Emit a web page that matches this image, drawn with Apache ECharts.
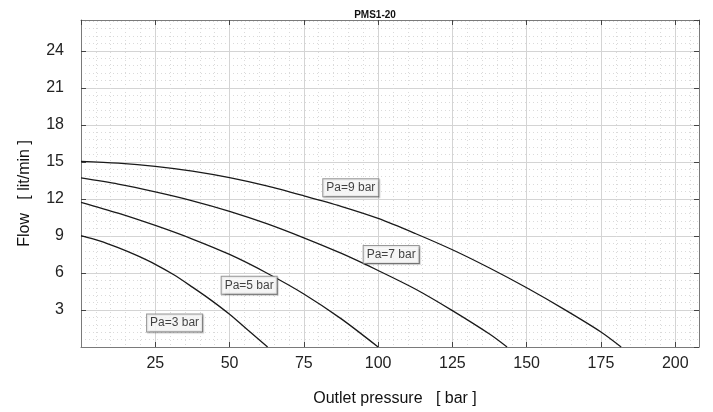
<!DOCTYPE html>
<html>
<head>
<meta charset="utf-8">
<script src="https://cdn.jsdelivr.net/npm/echarts@6/dist/echarts.min.js"></script>
<style>
html,body{margin:0;padding:0;background:#fff;}
#chart{width:713px;height:412px;}
</style>
</head>
<body>
<div id="chart"></div>
<script>
const titleText = "PMS1-20";
const xName = "Outlet pressure   [ bar ]";
const yName = "Flow   [ lit/min ]";

const seriesNames = ["Pa=3 bar", "Pa=5 bar", "Pa=7 bar", "Pa=9 bar"];

const pa3X = [0, 6.25, 12.5, 18.75, 25, 31.25, 37.5, 43.75, 50, 56.25, 62.8];
const pa3Y = [9.03, 8.6, 8.05, 7.42, 6.7, 5.85, 4.85, 3.8, 2.65, 1.35, 0];

const pa5X = [0, 12.5, 25, 37.5, 50, 62.5, 75, 87.5, 100];
const pa5Y = [11.73, 10.85, 9.85, 8.75, 7.5, 6.0, 4.3, 2.3, 0];

const pa7X = [0, 12.5, 25, 37.5, 50, 62.5, 75, 87.5, 100, 112.5, 125, 137.5, 143.4];
const pa7Y = [13.7, 13.2, 12.57, 11.85, 11.0, 10.0, 8.85, 7.6, 6.2, 4.7, 2.95, 1.05, 0];

const pa9X = [0, 12.5, 25, 37.5, 50, 62.5, 75, 87.5, 100, 112.5, 125, 137.5, 150, 162.5, 175, 181.8];
const pa9Y = [15.05, 14.9, 14.64, 14.25, 13.72, 13.05, 12.25, 11.4, 10.42, 9.2, 7.88, 6.4, 4.8, 3.07, 1.22, 0];

// label anchor points (data coordinates)
const labelX = [31.5, 56.6, 104.4, 90.8];
const labelY = [1.95, 5.0, 7.5, 12.9];

const xMin = 0, xMax = 208, xStep = 25;
const yMin = 0, yMax = 26.5, yStep = 3;

const FONT = "'Liberation Sans', Arial, sans-serif";

function pairs(xs, ys){ return xs.map((x,i)=>[x, ys[i]]); }
const curves = [pairs(pa3X,pa3Y), pairs(pa5X,pa5Y), pairs(pa7X,pa7Y), pairs(pa9X,pa9Y)];

const gridLine = {show:true, lineStyle:{color:'#d4d4d4', width:1}};
const minorLine = {show:true, lineStyle:{color:'#dadada', width:1, type:[1,3]}};
const tick = {show:true, inside:true, length:5, lineStyle:{color:'#444', width:1}};
const axLine = {show:true, onZero:false, lineStyle:{color:'#7a7a7a', width:1}};

const chart = echarts.init(document.getElementById('chart'), null, {renderer:'canvas'});

const series = curves.map((d,i)=>({
  name: seriesNames[i],
  type:'line',
  data:d,
  xAxisIndex:0, yAxisIndex:0,
  showSymbol:false,
  smooth:0.3,
  lineStyle:{color:'#1a1a1a', width:1.3},
  silent:true,
  z:3
}));

series.push({
  type:'scatter',
  xAxisIndex:0, yAxisIndex:0,
  symbolSize:0,
  silent:true,
  z:5,
  data: labelX.map((x,i)=>({value:[x, labelY[i]], name:seriesNames[i]})),
  label:{
    show:true,
    position:'inside',
    formatter: p => p.name,
    fontFamily:FONT,
    fontSize:12,
    color:'#111',
    backgroundColor:'#fff',
    borderColor:'#808080',
    borderWidth:1,
    padding:[3,3,2,3],
    shadowColor:'rgba(0,0,0,0.25)',
    shadowOffsetX:1,
    shadowOffsetY:1,
    shadowBlur:1
  }
});

chart.setOption({
  animation:false,
  backgroundColor:'#fff',
  title:{
    text:titleText,
    left:370, top:5,
    textAlign:'center',
    textStyle:{fontFamily:FONT, fontSize:10, fontWeight:'bold', color:'#111'}
  },
  grid:{left:81, right:14, top:20, bottom:65, containLabel:false},
  xAxis:[{
    type:'value', position:'bottom',
    min:xMin, max:xMax, interval:xStep,
    name:xName, nameLocation:'middle', nameGap:44,
    nameTextStyle:{fontFamily:FONT, fontSize:16, color:'#111', padding:[0,0,0,10]},
    axisLine:axLine, axisTick:tick,
    axisLabel:{fontFamily:FONT, fontSize:16, color:'#222', margin:9, showMinLabel:false, showMaxLabel:false},
    splitLine:gridLine,
    minorTick:{show:false, splitNumber:5},
    minorSplitLine:minorLine
  },{
    type:'value', position:'top',
    min:xMin, max:xMax, interval:xStep,
    axisLine:axLine, axisTick:tick,
    axisLabel:{show:false},
    splitLine:{show:false}
  }],
  yAxis:[{
    type:'value', position:'left',
    min:yMin, max:yMax, interval:yStep,
    name:yName, nameLocation:'middle', nameGap:48,
    nameRotate:90,
    nameTextStyle:{fontFamily:FONT, fontSize:16, color:'#111', padding:[0,20,0,0]},
    axisLine:axLine, axisTick:tick,
    axisLabel:{fontFamily:FONT, fontSize:16, color:'#222', margin:17, showMinLabel:false, showMaxLabel:false},
    splitLine:gridLine,
    minorTick:{show:false, splitNumber:5},
    minorSplitLine:minorLine
  },{
    type:'value', position:'right',
    min:yMin, max:yMax, interval:yStep,
    axisLine:axLine, axisTick:tick,
    axisLabel:{show:false},
    splitLine:{show:false}
  }],
  series:series
});
</script>
</body>
</html>
